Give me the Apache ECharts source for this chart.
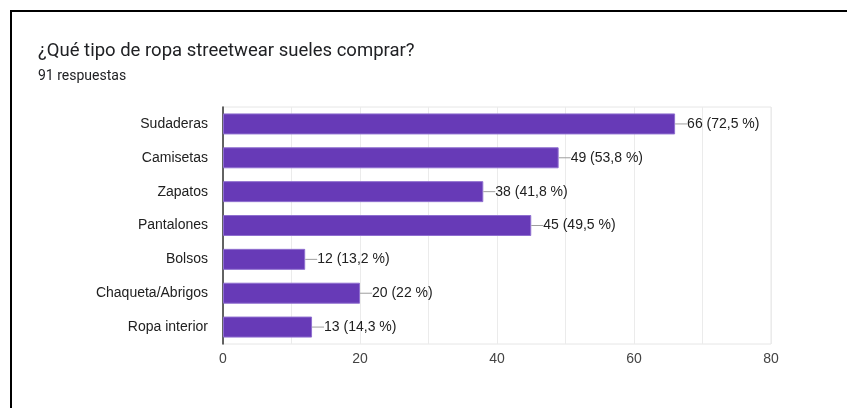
<!DOCTYPE html>
<html>
<head>
<meta charset="utf-8">
<script src="https://cdn.jsdelivr.net/npm/echarts@6/dist/echarts.min.js"></script>
<style>
  html, body { margin: 0; padding: 0; background: #fff; }
  #chart { width: 847px; height: 408px; }
</style>
</head>
<body>
<div id="chart"></div>
<script>
// Survey answers: clothing types
const categories = ['Sudaderas', 'Camisetas', 'Zapatos', 'Pantalones', 'Bolsos', 'Chaqueta/Abrigos', 'Ropa interior'];
const counts = [66, 49, 38, 45, 12, 20, 13];
const percents = ['72,5', '53,8', '41,8', '49,5', '13,2', '22', '14,3'];
const tickLabels = ['0', '20', '40', '60', '80'];
const titleText = '¿Qué tipo de ropa streetwear sueles comprar?';
const subtitleText = '91 respuestas';

const chart = echarts.init(document.getElementById('chart'), null, { renderer: 'canvas' });

const labelFont = 'Arial, "Liberation Sans", sans-serif';

chart.setOption({
  animation: false,
  backgroundColor: '#ffffff',
  title: {
    text: titleText,
    subtext: subtitleText,
    left: 33,
    top: 37,
    itemGap: 8,
    textStyle: { fontFamily: 'Roboto, sans-serif', fontSize: 18.5, fontWeight: 'normal', color: '#202124' },
    subtextStyle: { fontFamily: 'Roboto, sans-serif', fontSize: 14, color: '#202124' }
  },
  graphic: [
    { type: 'rect', shape: { x: 10, y: 10, width: 837, height: 2 }, style: { fill: '#000' } },
    { type: 'rect', shape: { x: 10, y: 10, width: 2, height: 398 }, style: { fill: '#000' } }
  ],
  grid: {
    left: 223, right: 76, top: 107, bottom: 64,
    show: true, borderColor: '#e6e6e6', borderWidth: 1
  },
  xAxis: {
    type: 'value',
    min: 0, max: 80, interval: 10,
    axisLine: { show: false },
    axisTick: { show: false },
    splitLine: { lineStyle: { color: '#ebebeb', width: 1 } },
    axisLabel: {
      margin: 8,
      fontFamily: labelFont, fontSize: 14, color: '#444',
      formatter: v => tickLabels.indexOf(String(v)) >= 0 ? String(v) : ''
    }
  },
  yAxis: {
    type: 'category',
    data: categories,
    inverse: true,
    axisLine: { show: true, lineStyle: { color: '#333', width: 1.5 } },
    axisTick: { show: false },
    splitLine: { show: false },
    axisLabel: { margin: 15, fontFamily: labelFont, fontSize: 14, color: '#212121' }
  },
  series: [{
    type: 'bar',
    data: counts,
    barWidth: 21,
    itemStyle: { color: '#673ab7', borderColor: '#8f6fcf', borderWidth: 1 },
    label: {
      show: true,
      position: 'right',
      distance: 0,
      formatter: p => '{ln|}{t|' + p.value + ' (' + percents[p.dataIndex] + ' %)}',
      rich: {
        ln: { width: 12, height: 1, backgroundColor: '#9e9e9e' },
        t: { fontFamily: labelFont, fontSize: 14, color: '#212121' }
      }
    }
  }]
});
</script>
</body>
</html>
